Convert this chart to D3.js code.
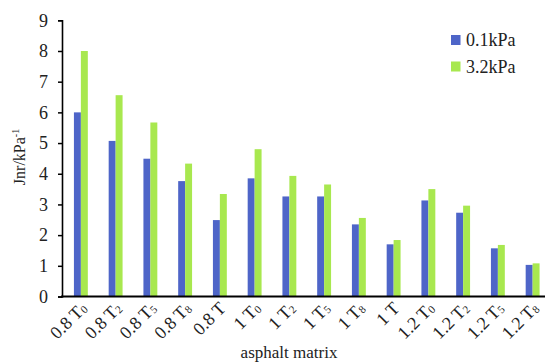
<!DOCTYPE html>
<html><head><meta charset="utf-8">
<script src="https://cdn.jsdelivr.net/npm/d3@7"></script>
<style>body{margin:0;background:#fff}svg{display:block}</style>
</head><body><svg id="c" width="545" height="362"></svg>
<script>
const categories = [["0.8 T","0"],["0.8 T","2"],["0.8 T","5"],["0.8 T","8"],["0.8 T",""],["1 T","0"],["1 T","2"],["1 T","5"],["1 T","8"],["1 T",""],["1.2 T","0"],["1.2 T","2"],["1.2 T","5"],["1.2 T","8"]];
const seriesNames = ["0.1kPa","3.2kPa"];
const low = [6.0,5.07,4.49,3.76,2.49,3.85,3.26,3.26,2.35,1.70,3.13,2.73,1.57,1.03];
const high = [8.0,6.56,5.67,4.33,3.34,4.80,3.93,3.65,2.56,1.84,3.50,2.96,1.68,1.08];
const yTicks = [0,1,2,3,4,5,6,7,8,9];
const colors = ["#4E65C8","#A8E84F"];
const FONT = "'Liberation Serif', 'Times New Roman', 'DejaVu Serif', serif";

const svg = d3.select("#c").attr("font-family",FONT);
const x0 = d3.scaleBand().domain(d3.range(categories.length)).range([63.5,550]).paddingInner(0.6).paddingOuter(0.3);
const x1 = d3.scaleBand().domain([0,1]).range([0,x0.bandwidth()]);
const y = d3.scaleLinear().domain([0,9]).range([296.5,20.3]);

const g = svg.append("g");
categories.forEach((c,i)=>{
  [low[i],high[i]].forEach((v,j)=>{
    g.append("rect").attr("x",x0(i)+x1(j)).attr("width",x1.bandwidth())
      .attr("y",y(v)).attr("height",y(0)-y(v)).attr("fill",colors[j]);
  });
});

// y axis
const yAxis = d3.axisLeft(y).tickValues(yTicks).tickSize(4).tickPadding(10);
const ya = svg.append("g").attr("transform","translate(62,0)").call(yAxis).attr("font-family",FONT);
ya.select(".domain").attr("stroke","#000").attr("stroke-width",1.6);
ya.selectAll(".tick line").attr("stroke","#000").attr("stroke-width",1.5);
ya.selectAll(".tick text").attr("font-size",18).attr("font-family",FONT).attr("fill","#222");

// x axis line
svg.append("line").attr("x1",61).attr("x2",545).attr("y1",y(0)).attr("y2",y(0)).attr("stroke","#000").attr("stroke-width",2.2);

// x labels
categories.forEach((c,i)=>{
  const cx = x0(i)+x0.bandwidth()/2;
  const t = svg.append("text").attr("transform",`translate(${cx+7},${y(0)+13}) rotate(-45)`)
    .attr("text-anchor","end").attr("font-size",18).attr("font-family",FONT).attr("fill","#222");
  t.append("tspan").text(c[0]);
  if(c[1]) t.append("tspan").attr("font-size",11).attr("dy",1).text(c[1]);
});

// axis titles
svg.append("text").attr("x",289).attr("y",358).attr("text-anchor","middle").attr("font-size",17).attr("font-family",FONT).attr("fill","#222").text("asphalt matrix");
const yt = svg.append("text").attr("transform","translate(25,157) rotate(-90)").attr("text-anchor","middle").attr("font-size",16).attr("font-family",FONT).attr("fill","#222");
yt.append("tspan").text("Jnr/kPa");
yt.append("tspan").attr("font-size",10).attr("dy",-6).text("-1");

// legend
seriesNames.forEach((n,i)=>{
  const ly = 35 + i*26.5;
  svg.append("rect").attr("x",451).attr("y",ly).attr("width",9.5).attr("height",10).attr("fill",colors[i]);
  svg.append("text").attr("x",466).attr("y",ly+11).attr("font-size",18).attr("font-family",FONT).attr("fill","#222").text(n);
});
</script></body></html>
